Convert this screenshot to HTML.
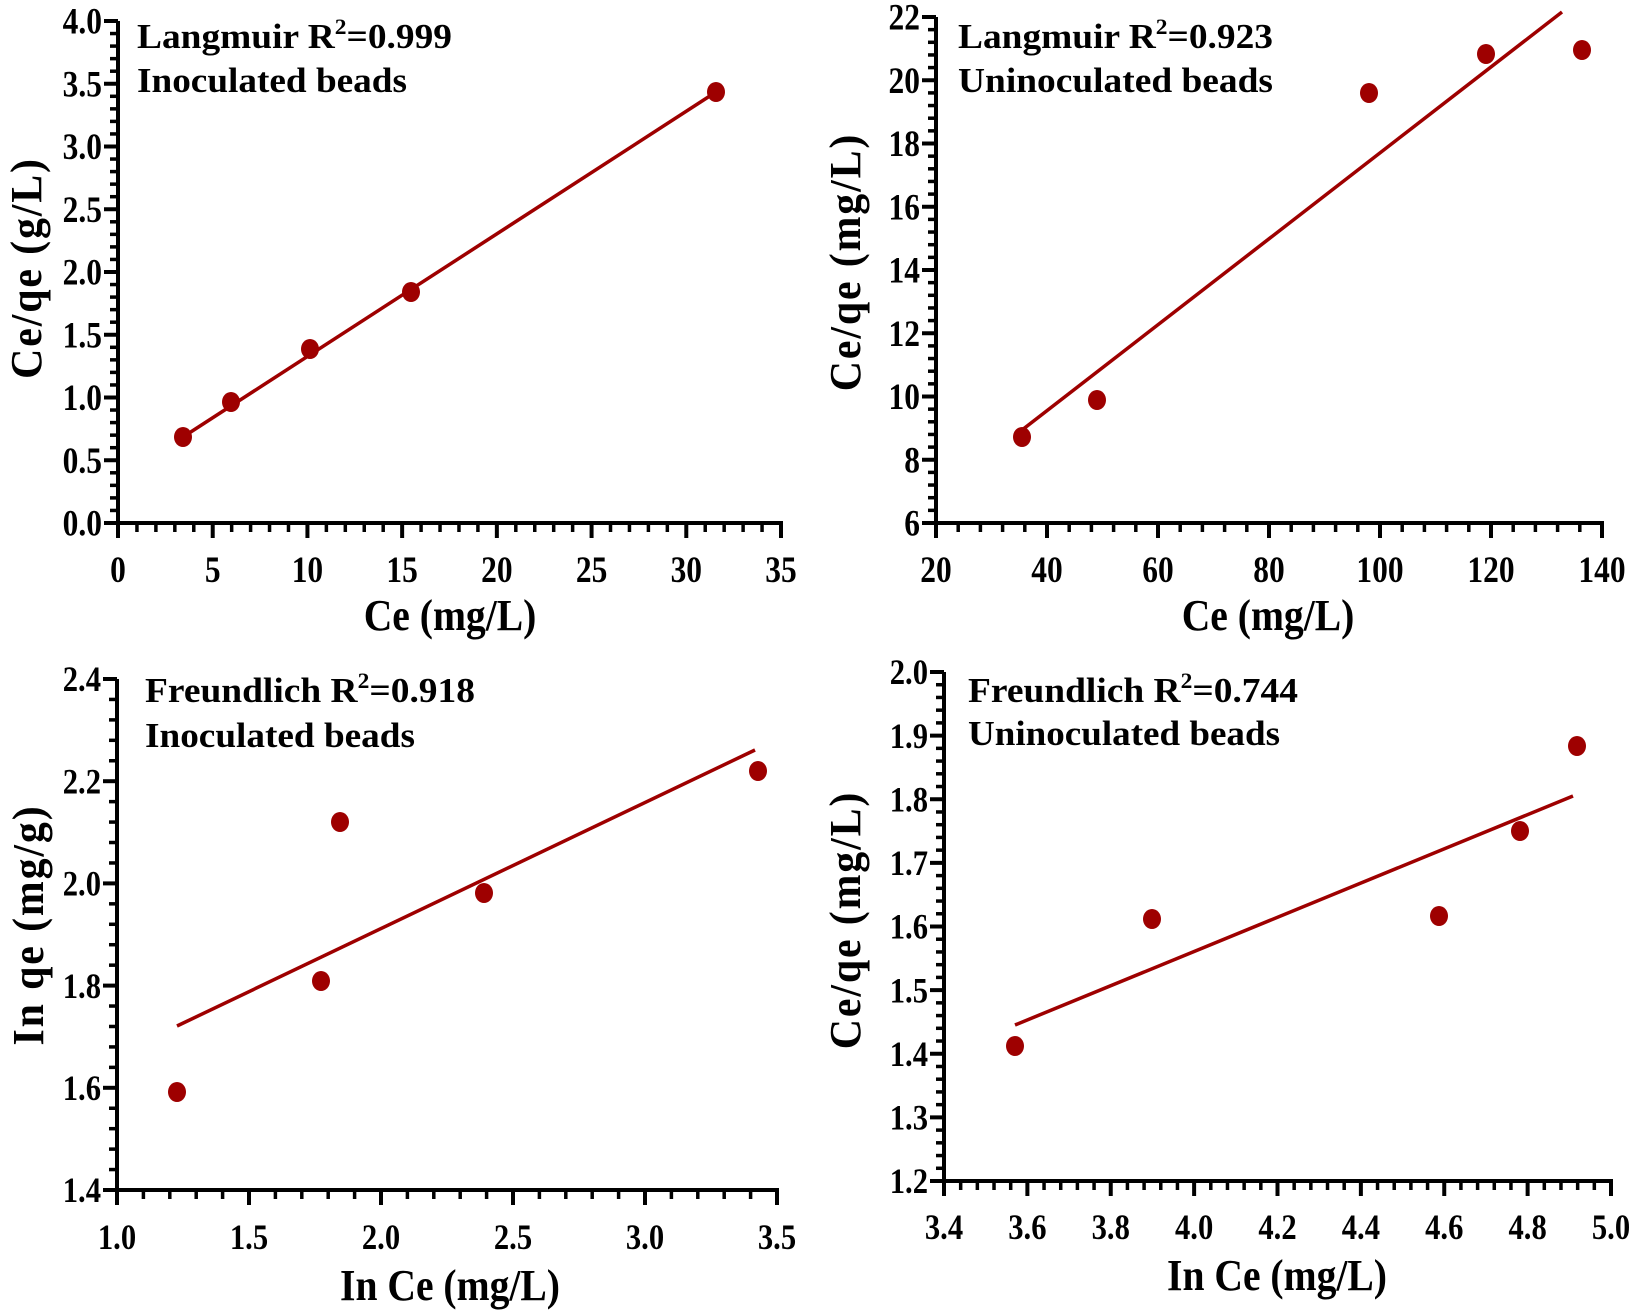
<!DOCTYPE html>
<html><head><meta charset="utf-8"><style>
html,body{margin:0;padding:0;background:#fff;}
svg{display:block;}
text{font-family:"Liberation Serif",serif;font-weight:bold;fill:#000;}
</style></head><body>
<svg id="s" width="1632" height="1313" viewBox="0 0 1632 1313" xmlns="http://www.w3.org/2000/svg"></svg>
<script>
const S=document.getElementById('s');let h='';
const RED='#9e0000';
function T(x,y,fs,anchor,txt,sx){return `<text transform="translate(${x},${y}) scale(${sx},1)" font-size="${fs}" text-anchor="${anchor}">${txt}</text>`;}
function panel(p){
  const {ax,ay,top,xr,xmin,xmax,xstep,xfmt,ymin,ymax,ystep,yfmt,fs}=p;
  h+=`<line x1="${ax}" y1="${top}" x2="${ax}" y2="${ay+2}" stroke="#000" stroke-width="4"/>`;
  h+=`<line x1="${ax-2}" y1="${ay}" x2="${xr+2}" y2="${ay}" stroke="#000" stroke-width="4"/>`;
  const nx=Math.round((xmax-xmin)/xstep);
  for(let i=0;i<=nx;i++){
    const x=ax+i*(xr-ax)/nx;
    h+=`<line x1="${x}" y1="${ay}" x2="${x}" y2="${ay+15}" stroke="#000" stroke-width="4"/>`;
    h+=T(x,p.xlb,fs,'middle',(xmin+i*xstep).toFixed(xfmt),0.85);
    if(i<nx)for(let k=1;k<5;k++){const xm=x+k*(xr-ax)/nx/5;h+=`<line x1="${xm}" y1="${ay}" x2="${xm}" y2="${ay+9}" stroke="#000" stroke-width="3.5"/>`;}
  }
  const ny=Math.round((ymax-ymin)/ystep);
  for(let i=0;i<=ny;i++){
    const y=ay-i*(ay-top)/ny;
    h+=`<line x1="${ax-14}" y1="${y}" x2="${ax}" y2="${y}" stroke="#000" stroke-width="4"/>`;
    h+=T(ax-16,y+fs*0.34,fs,'end',(ymin+i*ystep).toFixed(yfmt),0.85);
    if(i<ny)for(let k=1;k<5;k++){const ym=y-k*(ay-top)/ny/5;h+=`<line x1="${ax-8}" y1="${ym}" x2="${ax}" y2="${ym}" stroke="#000" stroke-width="3.5"/>`;}
  }
  h+=`<line x1="${p.line[0]}" y1="${p.line[1]}" x2="${p.line[2]}" y2="${p.line[3]}" stroke="${RED}" stroke-width="3.5"/>`;
  for(const q of p.pts)h+=`<ellipse cx="${q[0]}" cy="${q[1]}" rx="9" ry="10" fill="${RED}"/>`;
  h+=`<text x="${p.ann[0]}" y="${p.ann[1]}" font-size="35" textLength="${p.annw[0]}" lengthAdjust="spacingAndGlyphs">${p.a1}<tspan font-size="22" dy="-14">2</tspan><tspan dy="14">${p.a1b}</tspan></text>`;
  h+=`<text x="${p.ann[0]}" y="${p.ann[2]}" font-size="35" textLength="${p.annw[1]}" lengthAdjust="spacingAndGlyphs">${p.a2}</text>`;
  h+=T(p.xt[0],p.xt[1],44,'middle',p.xtitle,0.9);
  h+=`<text transform="translate(${p.yt[0]},${p.yt[1]}) rotate(-90) scale(0.95,1)" x="0" y="15" font-size="44" text-anchor="middle" letter-spacing="${p.yls||0}">${p.ytitle}</text>`;
}
panel({ax:118,ay:523,top:21,xr:781,xmin:0,xmax:35,xstep:5,xfmt:0,ymin:0,ymax:4,ystep:0.5,yfmt:1,fs:37,xlb:582,
 line:[183,437,716,92],pts:[[183,437],[231,402],[310,349],[411,292],[716,92]],
 ann:[137,48,92],annw:[315,270],a1:'Langmuir R',a1b:'=0.999',a2:'Inoculated beads',
 xt:[450,630],xtitle:'Ce (mg/L)',yt:[26,268],ytitle:'Ce/qe (g/L)',yls:2});
panel({ax:936,ay:523,top:17,xr:1602,xmin:20,xmax:140,xstep:20,xfmt:0,ymin:6,ymax:22,ystep:2,yfmt:0,fs:37,xlb:582,
 line:[1022,430,1562,12],pts:[[1022,437],[1097,400],[1369,93],[1486,54],[1582,50]],
 ann:[958,48,92],annw:[315,315],a1:'Langmuir R',a1b:'=0.923',a2:'Uninoculated beads',
 xt:[1268,630],xtitle:'Ce (mg/L)',yt:[845,262],ytitle:'Ce/qe (mg/L)',yls:2});
panel({ax:117,ay:1190,top:679,xr:777,xmin:1,xmax:3.5,xstep:0.5,xfmt:1,ymin:1.4,ymax:2.4,ystep:0.2,yfmt:1,fs:36,xlb:1249,
 line:[177,1026,755,750],pts:[[177,1092],[321,981],[340,822],[484,893],[758,771]],
 ann:[145,702,747],annw:[330,270],a1:'Freundlich R',a1b:'=0.918',a2:'Inoculated beads',
 xt:[450,1300],xtitle:'In Ce (mg/L)',yt:[28,925],ytitle:'In qe (mg/g)',yls:2});
panel({ax:944,ay:1181,top:672,xr:1611,xmin:3.4,xmax:5.0,xstep:0.2,xfmt:1,ymin:1.2,ymax:2.0,ystep:0.1,yfmt:1,fs:36,xlb:1239,
 line:[1015,1025,1573,796],pts:[[1015,1046],[1152,919],[1439,916],[1520,831],[1577,746]],
 ann:[968,702,745],annw:[330,312],a1:'Freundlich R',a1b:'=0.744',a2:'Uninoculated beads',
 xt:[1277,1290],xtitle:'In Ce (mg/L)',yt:[845,920],ytitle:'Ce/qe (mg/L)',yls:2});
S.innerHTML=h;
</script>
</body></html>
